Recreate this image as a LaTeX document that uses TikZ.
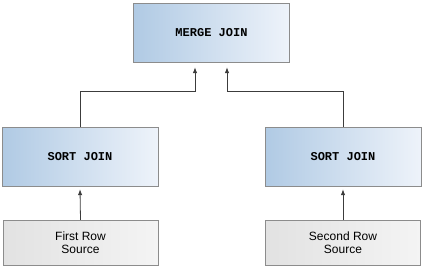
\documentclass[tikz,border=0pt]{standalone}
\usepackage{fontspec}
\setmainfont{Liberation Sans}
\setmonofont{Liberation Mono}
\usetikzlibrary{positioning,arrows.meta,calc}
\definecolor{BoxBlue}{RGB}{176,202,228}
\definecolor{BoxBlueLight}{RGB}{238,243,250}
\definecolor{LightGray}{RGB}{226,226,226}
\definecolor{VeryLightGray}{RGB}{244,244,244}
\definecolor{EdgeGray}{RGB}{140,140,140}
\definecolor{LineGray}{RGB}{60,60,60}

\begin{document}
\begin{tikzpicture}[x=1pt, y=-1pt,
    joinbox/.style={rectangle, draw=EdgeGray, left color=BoxBlue, right color=BoxBlueLight,
                    minimum width=156pt, minimum height=59pt, inner sep=0pt,
                    font=\ttfamily\bfseries\fontsize{12}{13}\selectfont},
    srcbox/.style={rectangle, draw=EdgeGray, left color=LightGray, right color=VeryLightGray,
                   minimum width=155pt, minimum height=45pt, inner sep=0pt, align=center,
                   font=\fontsize{12}{12.5}\selectfont},
    arr/.style={draw=LineGray, line width=0.8pt, -{Latex[length=6pt,width=4.5pt]}},
]
    \useasboundingbox (0,0) rectangle (423,269);
    \node[joinbox] (merge) at (211.5,32.5) {MERGE JOIN};
    \node[joinbox] (sortl) at (80,156.5) {SORT JOIN};
    \node[joinbox] (sortr) at (343,156.5) {SORT JOIN};
    \node[srcbox] (srcl) at (80.5,242.5) {First Row\\Source};
    \node[srcbox] (srcr) at (343,242.5) {Second Row\\Source};
    % connectors
    \coordinate (jl) at (195,91);
    \coordinate (jr) at (227,91);
    \draw[arr] (sortl.north) |- (jl) -- ([yshift=-5pt]merge.south -| jl);
    \draw[arr] (sortr.north) |- (jr) -- ([yshift=-5pt]merge.south -| jr);
    \draw[arr] (srcl.north) -- ([yshift=-3pt]sortl.south);
    \draw[arr] (srcr.north) -- ([yshift=-3pt]sortr.south);
\end{tikzpicture}
\end{document}
